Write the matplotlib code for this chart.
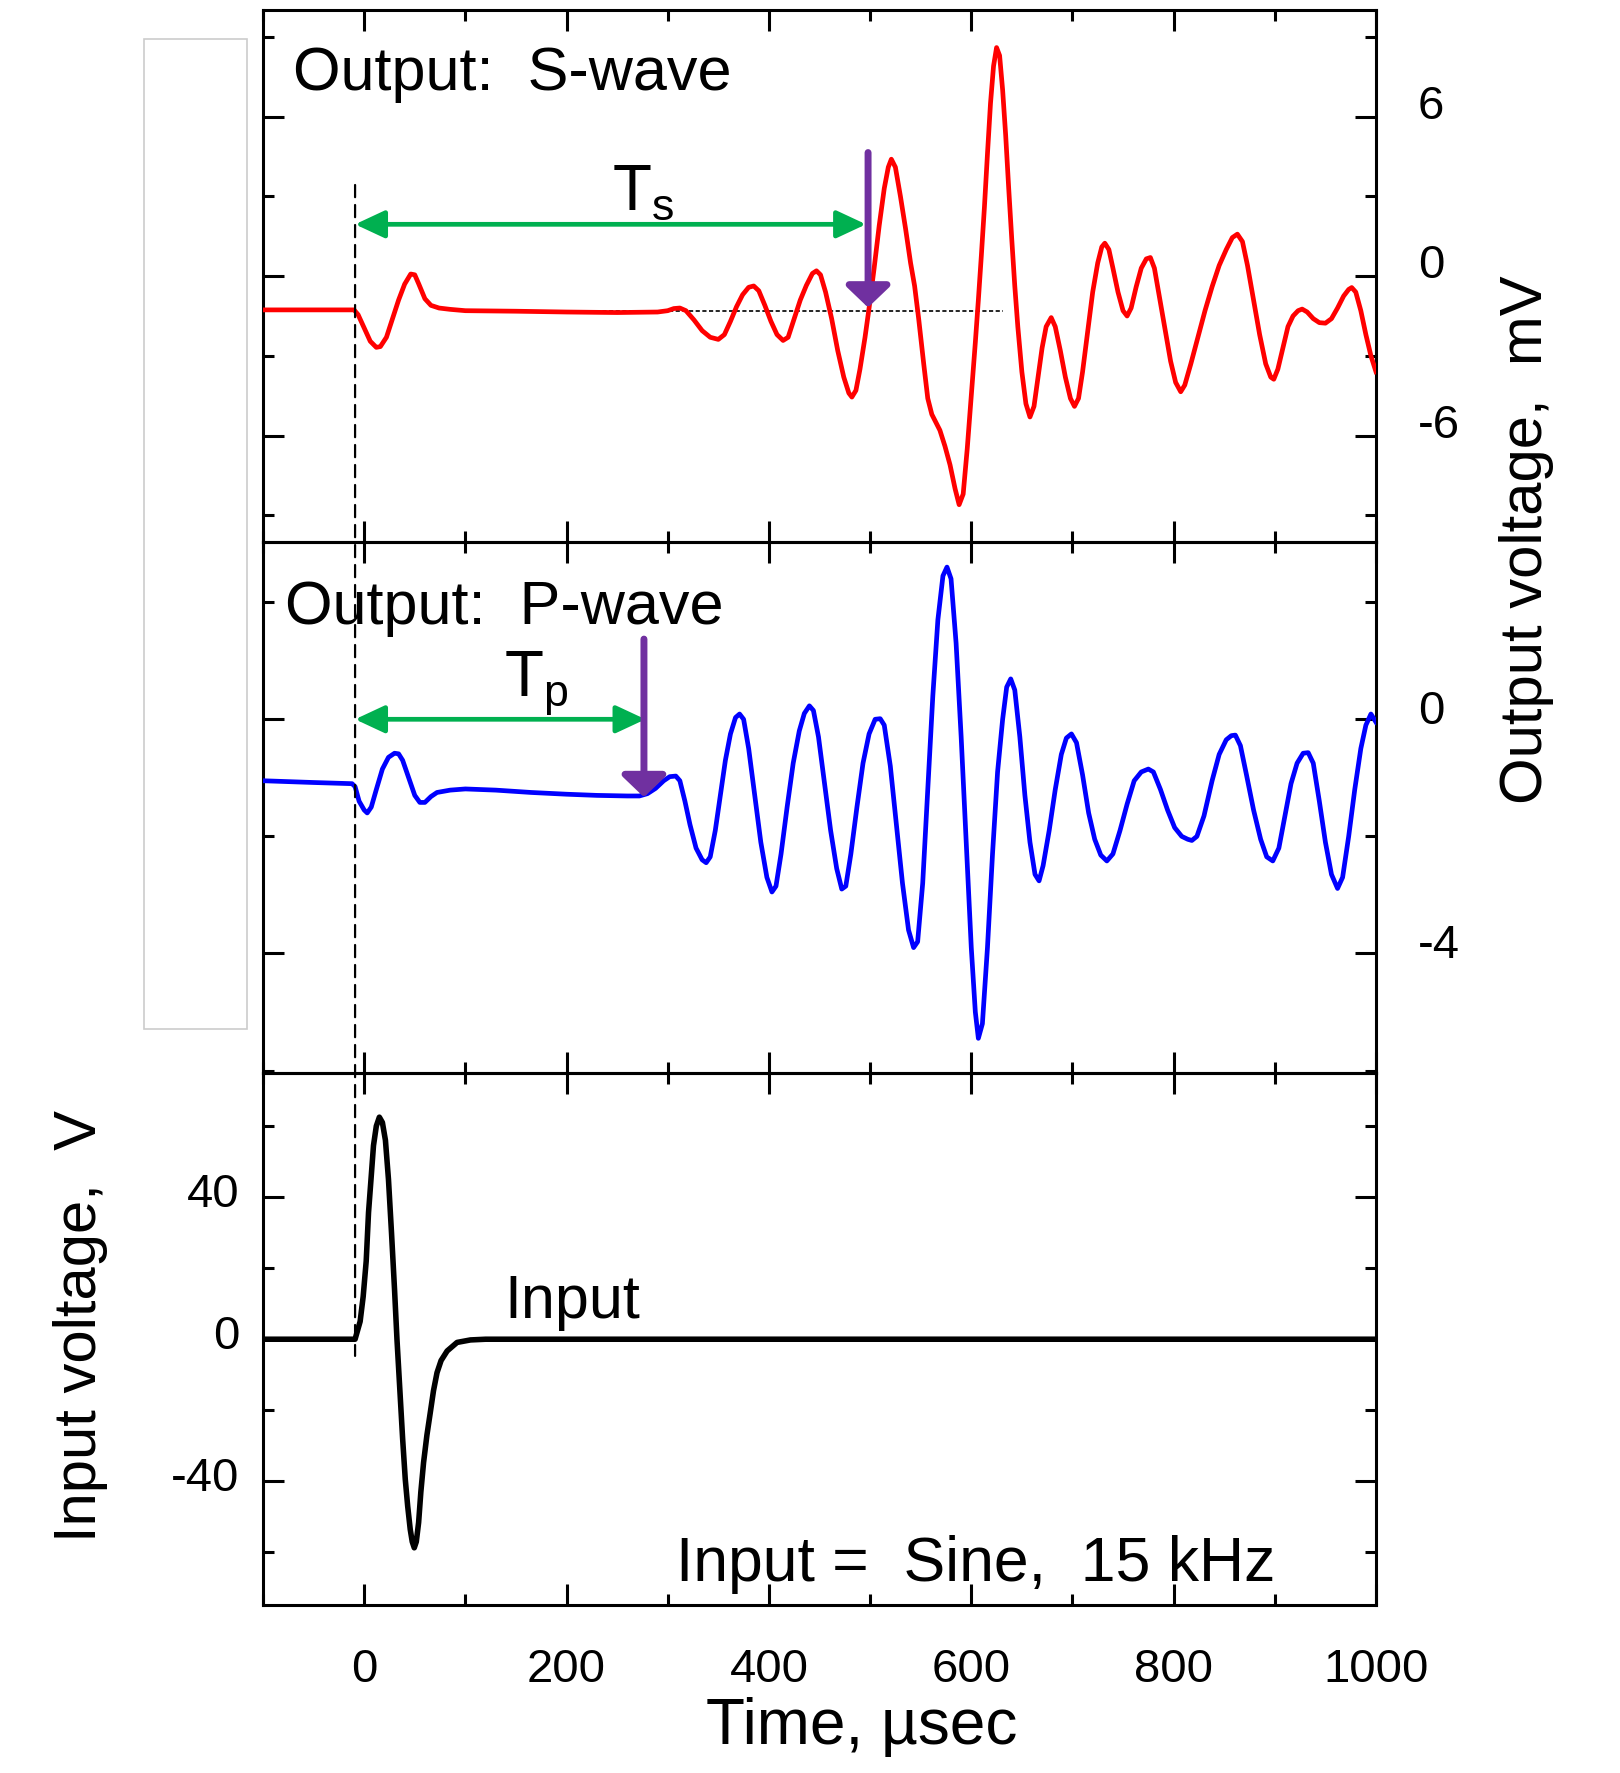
import matplotlib
matplotlib.use("Agg")
import matplotlib.pyplot as plt
from matplotlib.patches import Rectangle, ConnectionPatch
from matplotlib.transforms import ScaledTranslation
from matplotlib.ticker import MultipleLocator, FixedLocator

plt.rcParams['font.family'] = ['Liberation Sans', 'DejaVu Sans']
plt.rcParams['mathtext.fontset'] = 'custom'
plt.rcParams['mathtext.rm'] = 'Liberation Sans'
plt.rcParams['axes.unicode_minus'] = False

# ---------------- data ----------------
s_time = [-100, -50, -10, -6, 0, 6, 12, 16, 22, 28, 34, 40, 46, 50, 54, 60, 66, 74, 85, 100,
          150, 200, 250, 290, 300, 306, 312, 318, 326, 334, 342, 350, 356, 362, 368, 374, 380,
          385, 390, 396, 402, 408, 414, 419, 425, 431, 437, 443, 447, 451, 456, 462, 468, 474,
          479, 482, 486, 490, 495, 499, 504, 509, 514, 518, 521, 525, 530, 535, 540, 544, 548,
          553, 557, 561, 565, 569, 574, 579, 584, 588, 592, 596, 600, 604, 607, 610, 613, 616,
          619, 622, 625, 628, 631, 634, 637, 640, 643, 646, 650, 654, 658, 662, 666, 670, 674,
          679, 683, 688, 693, 698, 702, 706, 710, 715, 720, 725, 729, 732, 736, 740, 745, 750,
          754, 758, 763, 768, 773, 777, 781, 786, 792, 797, 802, 807, 811, 817, 824, 831, 838,
          845, 852, 858, 863, 868, 873, 879, 885, 891, 896, 899, 903, 908, 913, 918, 923, 927,
          932, 938, 944, 950, 956, 962, 968, 973, 976, 980, 985, 990, 995, 1000]
s_volt = [-1.27, -1.27, -1.27, -1.45, -1.95, -2.45, -2.68, -2.65, -2.3, -1.6, -0.9, -0.3, 0.08,
          0.05, -0.3, -0.85, -1.1, -1.2, -1.25, -1.3,
          -1.32, -1.35, -1.37, -1.35, -1.3, -1.22, -1.2, -1.3, -1.65, -2.05, -2.3, -2.38, -2.2,
          -1.7, -1.15, -0.7, -0.42,
          -0.37, -0.55, -1.1, -1.7, -2.2, -2.42, -2.3, -1.6, -0.9, -0.35, 0.1, 0.2, 0.05, -0.6,
          -1.6, -2.8, -3.8,
          -4.4, -4.55, -4.3, -3.5, -2.3, -1.2, 0.3, 1.9, 3.3, 4.1, 4.4, 4.1, 3.0, 1.8, 0.5,
          -0.37, -1.6,
          -3.3, -4.6, -5.2, -5.5, -5.8, -6.4, -7.1, -8.0, -8.6, -8.2, -6.5, -4.5, -2.5, -0.9,
          0.8, 2.6, 4.6,
          6.5, 7.9, 8.6, 8.3, 7.0, 5.3, 3.3, 1.4, -0.37, -1.9, -3.6, -4.8, -5.3, -4.9, -3.8,
          -2.7, -1.9,
          -1.56, -1.9, -2.8, -3.8, -4.6, -4.9, -4.6, -3.6, -2.1, -0.6, 0.5, 1.1, 1.24, 1.0,
          0.3, -0.6, -1.3,
          -1.5, -1.2, -0.4, 0.3, 0.65, 0.7, 0.3, -0.8, -2.1, -3.2, -4.0, -4.35, -4.1, -3.3,
          -2.3, -1.3, -0.4,
          0.4, 1.0, 1.45, 1.58, 1.3, 0.4, -0.9, -2.2, -3.3, -3.8, -3.88, -3.5, -2.7, -1.9,
          -1.5, -1.3, -1.24,
          -1.35, -1.6, -1.75, -1.77, -1.6, -1.2, -0.75, -0.5, -0.43, -0.6, -1.3, -2.2, -3.0,
          -3.6]

p_time = [-100, -50, -12, -9, -5, 0, 3, 7, 12, 18, 24, 30, 34, 38, 44, 50, 55, 60, 66, 72,
          85, 100, 130, 165, 200, 230, 260, 272, 280, 288, 296, 302, 308, 312, 317, 322, 328,
          334, 338, 342, 347, 352, 357, 362, 367, 371, 375, 380, 386, 392, 398, 403, 407, 412,
          418, 424, 430, 435, 440, 444, 449, 455, 461, 467, 472, 476, 481, 487, 493, 499, 505,
          510, 514, 520, 526, 532, 538, 543, 547, 552, 557, 562, 567, 572, 576, 580, 585, 590,
          595, 600, 604, 607, 611, 616, 621, 626, 631, 635, 639, 643, 648, 653, 658, 663, 667,
          671, 677, 683, 689, 694, 699, 704, 710, 716, 722, 728, 734, 740, 747, 754, 761, 768,
          775, 780, 787, 794, 801, 808, 814, 818, 823, 830, 838, 845, 852, 857, 861, 866, 872,
          879, 886, 892, 898, 904, 910, 916, 922, 928, 933, 938, 944, 950, 956, 962, 967, 973,
          979, 985, 990, 995, 1000]
p_volt = [-1.05, -1.08, -1.1, -1.15, -1.4, -1.55, -1.6, -1.5, -1.2, -0.85, -0.65, -0.58, -0.59,
          -0.7, -1.0, -1.3, -1.42, -1.42, -1.32, -1.25,
          -1.21, -1.19, -1.21, -1.25, -1.28, -1.3, -1.31, -1.31, -1.27, -1.18, -1.05, -0.98,
          -0.97, -1.05, -1.4, -1.8, -2.2,
          -2.4, -2.45, -2.35, -1.9, -1.3, -0.7, -0.25, 0.03, 0.09, 0.0, -0.5, -1.3, -2.1, -2.7,
          -2.95, -2.85, -2.3,
          -1.5, -0.75, -0.2, 0.1, 0.23, 0.15, -0.3, -1.1, -1.9, -2.55, -2.9, -2.85, -2.3, -1.5,
          -0.75, -0.25, 0.0,
          0.01, -0.1, -0.8, -1.8, -2.8, -3.6, -3.9, -3.8, -2.8, -1.2, 0.4, 1.7, 2.45, 2.6, 2.4,
          1.3, -0.3,
          -2.1, -3.9, -5.0, -5.45, -5.2, -3.9, -2.3, -0.9, 0.0, 0.55, 0.69, 0.5, -0.3, -1.3,
          -2.1, -2.65, -2.76,
          -2.5, -1.9, -1.2, -0.6, -0.32, -0.25, -0.4, -0.95, -1.6, -2.05, -2.32, -2.42, -2.3,
          -1.9, -1.45, -1.05, -0.9,
          -0.85, -0.9, -1.2, -1.55, -1.85, -2.0, -2.05, -2.07, -2.0, -1.65, -1.05, -0.6, -0.35,
          -0.28, -0.27, -0.45, -0.95,
          -1.55, -2.05, -2.35, -2.42, -2.2, -1.65, -1.1, -0.75, -0.58, -0.57, -0.75, -1.4,
          -2.1, -2.65, -2.89, -2.7, -2.0,
          -1.2, -0.5, -0.1, 0.09, -0.05]

in_time = [-100, -9, -8, -4, -1, 2, 4.3, 7, 9.2, 12, 15, 18, 21, 24, 27, 30, 32.4, 35.6, 38,
           40.6, 43, 45.5, 47.5, 49.5, 51.5, 53.8, 56, 58.7, 62, 65.3, 68.5, 72, 76, 82, 91.8,
           105, 120, 1000]
in_volt = [0, 0, 1, 5, 12, 22, 35.7, 46, 54.5, 60, 62.5, 61, 56, 45, 30, 14, 0, -16, -28,
           -39.4, -47, -53.5, -57, -58.7, -57, -51.6, -43, -34.7, -27, -20.7, -14.5, -9.4, -6,
           -3.3, -0.9, -0.2, 0, 0]

x_ticks = [0, 200, 400, 600, 800, 1000]
top_ticks, top_minor = [-6, 0, 6], [-9, -3, 3, 9]
mid_ticks, mid_minor = [-4, 0], [-6, -2, 2]
bot_ticks, bot_minor = [-40, 0, 40], [-60, -20, 20, 60]

# annotation geometry (data units)
t_zero = -9
ts_arrow_end, ts_arrow_y = 496, 1.95
ts_mark_x, ts_mark_top, ts_mark_tip = 498, 4.65, -1.18
tp_arrow_end, tp_arrow_y = 278, 0.0
tp_mark_x, tp_mark_top, tp_mark_tip = 276.5, 1.37, -1.33
s_ref_line = (202, 631, -1.31)

# ---------------- figure ----------------
W, H = 1620, 1773
fig = plt.figure(figsize=(W / 100, H / 100), dpi=100)
left = 263 / W
width = (1376 - 263) / W
ph = 0.2998
b3 = 1 - 1605 / H
ax3 = fig.add_axes([left, b3, width, ph])
ax2 = fig.add_axes([left, b3 + ph, width, ph])
ax1 = fig.add_axes([left, b3 + 2 * ph, width, ph])

RED, BLUE = '#ff0000', '#0000ff'
GREEN, PURPLE = '#00b050', '#7030a0'
LW = 3.4

ax1.plot(s_time, s_volt, color=RED, lw=LW, solid_joinstyle='round', zorder=3)
ax2.plot(p_time, p_volt, color=BLUE, lw=LW, solid_joinstyle='round', zorder=3)
ax3.plot(in_time, in_volt, color='black', lw=LW + 0.6, solid_joinstyle='round', zorder=3)

ax1.set_ylim(-10, 10)
ax2.set_ylim(-6.05, 3.03)
ax3.set_ylim(-74.8, 74.8)

for ax, maj, mnr in ((ax1, top_ticks, top_minor), (ax2, mid_ticks, mid_minor),
                     (ax3, bot_ticks, bot_minor)):
    ax.set_xlim(-100, 1000)
    ax.xaxis.set_major_locator(FixedLocator(x_ticks))
    ax.xaxis.set_minor_locator(MultipleLocator(100))
    ax.yaxis.set_major_locator(FixedLocator(maj))
    ax.yaxis.set_minor_locator(FixedLocator(mnr))
    for sp in ax.spines.values():
        sp.set_linewidth(2.2)
    ax.tick_params(which='both', direction='in', top=True, bottom=True, left=True,
                   right=True, width=2.2, labelsize=34)
    ax.tick_params(which='major', length=15)
    ax.tick_params(which='minor', length=8)
    ax.set_facecolor('none')

for ax in (ax1, ax2):
    ax.tick_params(axis='x', labelbottom=False)
    ax.tick_params(axis='y', labelleft=False, labelright=True, pad=30)
ax3.tick_params(axis='x', pad=31)
ax3.tick_params(axis='y', pad=17)

# ---- texts ----
FS = 44
ax1.text(-70, 7.0, 'Output:  S-wave', fontsize=FS, ha='left', va='baseline')
ax2.text(-78, 1.62, 'Output:  P-wave', fontsize=FS, ha='left', va='baseline')
ax1.text(245, 2.5, r'$\mathregular{T_s}$', fontsize=FS + 2, ha='left', va='baseline')
ax2.text(138, 0.38, r'$\mathregular{T_p}$', fontsize=FS + 2, ha='left', va='baseline')
ax3.text(139, 6.1, 'Input', fontsize=FS, ha='left', va='baseline')
ax3.text(308, -68, 'Input =  Sine,  15 kHz', fontsize=45, ha='left', va='baseline')

fig.text(862 / W, 1 - 1744 / H, 'Time, µsec', fontsize=46, ha='center', va='baseline')
fig.text(1527 / W, 1 - 540 / H, 'Output voltage,  mV', rotation=90, fontsize=43,
         ha='center', va='center')
fig.text(81 / W, 1 - 1326 / H, 'Input voltage,  V', rotation=90, fontsize=43,
         ha='center', va='center')

# ---- arrows ----
green_style = '<|-|>,head_length=0.9,head_width=0.42'
purple_style = '-|>,head_length=0.65,head_width=0.68'
ax1.annotate('', xy=(ts_arrow_end, ts_arrow_y), xytext=(t_zero, ts_arrow_y),
             arrowprops=dict(arrowstyle=green_style, mutation_scale=20, color=GREEN,
                             lw=3.4, shrinkA=0, shrinkB=0))
ax2.annotate('', xy=(tp_arrow_end, tp_arrow_y), xytext=(t_zero, tp_arrow_y),
             arrowprops=dict(arrowstyle=green_style, mutation_scale=20, color=GREEN,
                             lw=3.4, shrinkA=0, shrinkB=0))
ax1.annotate('', xy=(ts_mark_x, ts_mark_tip), xytext=(ts_mark_x, ts_mark_top),
             arrowprops=dict(arrowstyle=purple_style, mutation_scale=20, color=PURPLE,
                             lw=5, shrinkA=0, shrinkB=0), zorder=5)
ax2.annotate('', xy=(tp_mark_x, tp_mark_tip), xytext=(tp_mark_x, tp_mark_top),
             arrowprops=dict(arrowstyle=purple_style, mutation_scale=20, color=PURPLE,
                             lw=5, shrinkA=0, shrinkB=0), zorder=5)

ax1.plot(s_ref_line[:2], [s_ref_line[2]] * 2, color='black', lw=1.2,
         ls=(0, (2.5, 1.5)), zorder=2)

con = ConnectionPatch(xyA=(t_zero, 3.43), coordsA=ax1.transData,
                      xyB=(t_zero, -4.7), coordsB=ax3.transData,
                      color='black', lw=1.6, linestyle=(0, (5.5, 3.5)), zorder=6)
fig.add_artist(con)

fig.add_artist(Rectangle((144 / W, 1 - 1029 / H), (247 - 144) / W, (1029 - 39) / H,
                         transform=fig.transFigure, fill=False, edgecolor='#cccccc', lw=1.2))

# shift y tick labels slightly upward as in the reference
for ax, dy in ((ax1, 15), (ax2, 12), (ax3, 7)):
    off = ScaledTranslation(0, dy / 100, fig.dpi_scale_trans)
    for tick in ax.yaxis.get_major_ticks():
        tick.label1.set_transform(tick.label1.get_transform() + off)
        tick.label2.set_transform(tick.label2.get_transform() + off)

fig.savefig('out.png', dpi=100)
